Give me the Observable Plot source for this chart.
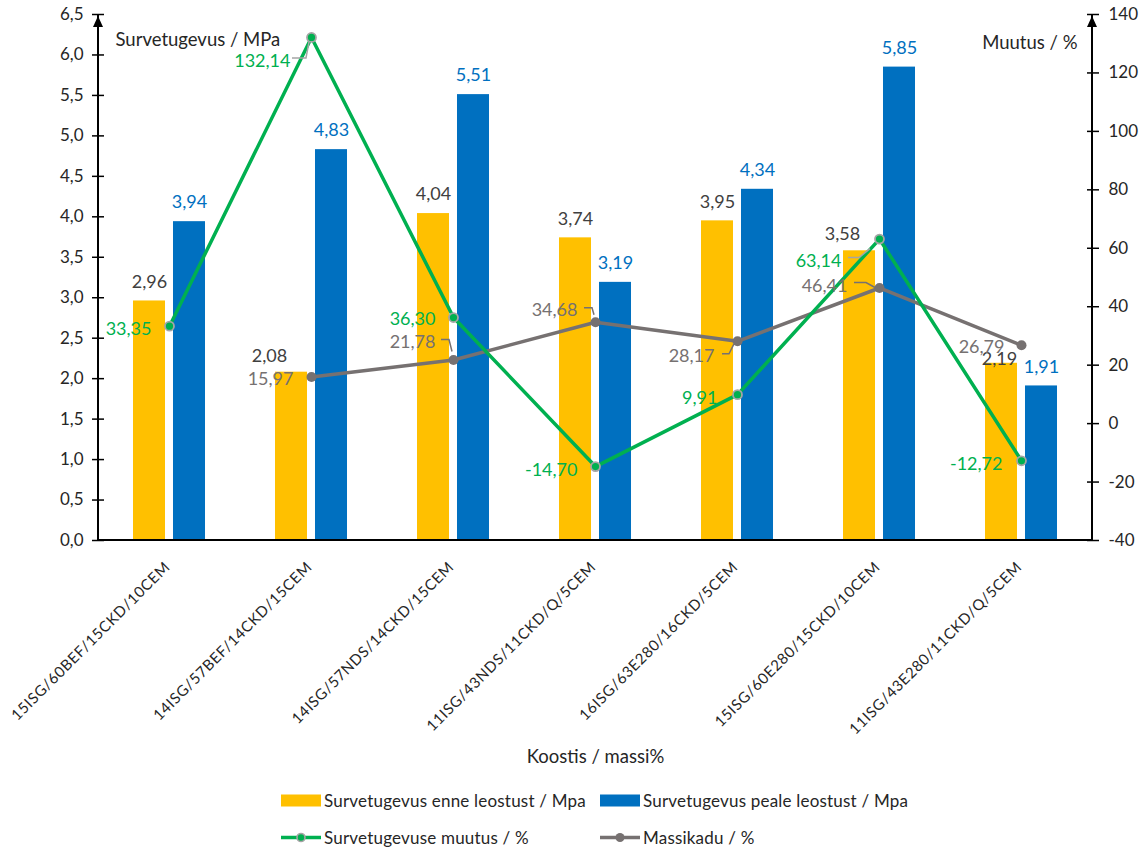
<!DOCTYPE html>
<html>
<head>
<meta charset="utf-8">
<script src="https://cdn.jsdelivr.net/npm/d3@7"></script>
<script src="https://cdn.jsdelivr.net/npm/@observablehq/plot@0.6"></script>
<style>
  body { margin: 0; background: #fff; font-family: Lato, "Open Sans", sans-serif; }
  #chart { position: relative; width: 1143px; height: 780px; }
  #chart svg { position: absolute; left: 0; top: 0; }
  #chart [aria-label="x-axis tick label"] text { letter-spacing: 0.6px; }
  #legend { position: relative; width: 1143px; height: 67px; font-size: 17px; letter-spacing: 0.2px; color: #262626; }
  .item { position: absolute; display: flex; align-items: center; white-space: nowrap; transform: translateY(-50%); }
  .item svg { margin-right: 3px; }
</style>
</head>
<body>
<div id="chart"></div>
<div id="legend"></div>
<script>
// Mixture compositions (mass %)
const categories = [
  "15ISG/60BEF/15CKD/10CEM",
  "14ISG/57BEF/14CKD/15CEM",
  "14ISG/57NDS/14CKD/15CEM",
  "11ISG/43NDS/11CKD/Q/5CEM",
  "16ISG/63E280/16CKD/5CEM",
  "15ISG/60E280/15CKD/10CEM",
  "11ISG/43E280/11CKD/Q/5CEM"
];
// Compressive strength before / after leaching, MPa
const strengthBefore = [2.96, 2.08, 4.04, 3.74, 3.95, 3.58, 2.19];
const strengthAfter  = [3.94, 4.83, 5.51, 3.19, 4.34, 5.85, 1.91];
// Change in compressive strength, %
const strengthChange = [33.35, 132.14, 36.30, -14.70, 9.91, 63.14, -12.72];
// Mass loss, % (not measured for the first mixture)
const massLoss = [null, 15.97, 21.78, 34.68, 28.17, 46.41, 26.79];

const leftTicks  = [0, 0.5, 1, 1.5, 2, 2.5, 3, 3.5, 4, 4.5, 5, 5.5, 6, 6.5];
const rightTicks = [-40, -20, 0, 20, 40, 60, 80, 100, 120, 140];

const seriesNames = [
  "Survetugevus enne leostust / Mpa",
  "Survetugevus peale leostust / Mpa",
  "Survetugevuse muutus / %",
  "Massikadu / %"
];
const leftTitle = "Survetugevus / MPa";
const rightTitle = "Muutus / %";
const bottomTitle = "Koostis / massi%";

// Colours
const YELLOW = "#FFC000", BLUE = "#0070C0", GREEN = "#00B050", GREY = "#767171";
const TEXT = "#262626";

// Label nudges (px) for labels that were moved off their default spot
const beforeLabelNudge = [[0,0],[-22,3],[0,0],[0,0],[0,0],[-17,2],[-2,15]];
const changeLabelNudge = [[-18,3],[-21,24],[-18,2],[-18,4],[-20,4],[-38,22],[-19,3]];
const lossLabelNudge   = [null,[-18,2],[-18,-18],[-18,-12],[-23,15],[-32,-2],[-17,2]];
// Leader lines from moved labels back to their points (px, relative to point)
const leaderLines = [
  {series: "change", i: 1, color: "#A5A5A5", path: [[-19,21],[-5,21],[-2,5]]},
  {series: "change", i: 5, color: "#A5A5A5", path: [[-31,19],[-20,19],[-9,10]]},
  {series: "loss",   i: 2, color: GREY, path: [[-12,-20],[-4,-20],[-1,-8]]},
  {series: "loss",   i: 3, color: GREY, path: [[-11,-14],[-3,-14],[-1,-7]]},
  {series: "loss",   i: 4, color: GREY, path: [[-15,13],[-8,13],[-3,3]]},
  {series: "loss",   i: 5, color: GREY, path: [[-25,-5],[-13,-5],[-4,0]]}
];

const locale = d3.formatLocale({decimal: ",", thousands: " ", grouping: [3], currency: ["", ""], minus: "-"});
const fmt1 = locale.format(".1f");
const fmt2 = locale.format(".2f");
const fmtInt = locale.format("d");

const rows = categories.map((c, i) => ({
  c, i,
  before: strengthBefore[i],
  after: strengthAfter[i],
  change: strengthChange[i],
  loss: massLoss[i]
}));
const lossRows = rows.filter(d => d.loss != null);

const W = 1143, H = 780;
const margins = {marginTop: 14, marginRight: 51, marginBottom: 240, marginLeft: 98};
const xScale = {domain: categories, paddingInner: 0.7746, paddingOuter: 0.3873, round: false, axis: null};
const baseStyle = {fontFamily: "Lato, 'Open Sans', sans-serif", fontSize: "17px", color: TEXT, background: "transparent", overflow: "visible"};
const LABEL_SIZE = 18, TICK_SIZE = 17, TITLE_SIZE = 18.5;

// Axis line with an arrow head at the top
function axisLine(side) {
  return (index, scales, values, dims) => {
    const x = side === "left" ? dims.marginLeft : dims.width - dims.marginRight;
    const top = dims.marginTop, bottom = dims.height - dims.marginBottom;
    const g = d3.create("svg:g");
    g.append("line")
      .attr("x1", x).attr("x2", x).attr("y1", bottom + 1).attr("y2", top)
      .attr("stroke", "#000").attr("stroke-width", 2);
    g.append("path")
      .attr("d", `M${x},${top + 2}L${x - 5},${top + 13}L${x + 5},${top + 13}Z`)
      .attr("fill", "#000");
    if (side === "left") {
      g.append("line")
        .attr("x1", dims.marginLeft).attr("x2", dims.width - dims.marginRight)
        .attr("y1", bottom).attr("y2", bottom)
        .attr("stroke", "#000").attr("stroke-width", 2);
    }
    return g.node();
  };
}

// Bars, left axis, category labels
const barLabelMarks = [];
rows.forEach((d, i) => {
  const [nx, ny] = beforeLabelNudge[i];
  barLabelMarks.push(Plot.text([d], {x: "c", y: "before", text: r => fmt2(r.before), dx: -20 + nx, dy: -19 + ny, fill: "#404040", fontSize: LABEL_SIZE}));
});
barLabelMarks.push(Plot.text(rows, {x: "c", y: "after", text: r => fmt2(r.after), dx: 20, dy: -19, fill: BLUE, fontSize: LABEL_SIZE}));

const plotBars = Plot.plot({
  width: W, height: H, ...margins,
  style: baseStyle,
  x: xScale,
  y: {domain: [0, 6.5], axis: null},
  marks: [
    Plot.barY(rows, {x: "c", y: "before", fill: YELLOW, dx: -20}),
    Plot.barY(rows, {x: "c", y: "after", fill: BLUE, dx: 20}),
    ...barLabelMarks,
    Plot.axisY(leftTicks, {anchor: "left", tickSize: 6, tickPadding: 9, tickFormat: fmt1, stroke: "#000", strokeWidth: 1.5, fill: TEXT, fontSize: TICK_SIZE, label: null}),
    Plot.axisY(leftTicks, {anchor: "left", tickSize: 6, dx: 6, stroke: "#000", strokeWidth: 1.5, fill: "none", label: null}),
    Plot.axisX({anchor: "bottom", tickSize: 0, tickRotate: -45, tickPadding: 24, dx: -2, fill: TEXT, fontSize: 15, label: null}),
    axisLine("left"),
    Plot.text([leftTitle], {frameAnchor: "top-left", textAnchor: "start", dx: 17, dy: 18, fontSize: TITLE_SIZE, fill: TEXT}),
    Plot.text([bottomTitle], {frameAnchor: "bottom", dy: 222, fontSize: TITLE_SIZE, fill: TEXT})
  ]
});

// Lines, right axis
function leaders(index, scales, values, dims) {
  const g = d3.create("svg:g");
  const bw = scales.x.bandwidth ? scales.x.bandwidth() / 2 : 0;
  for (const {series, i, color, path} of leaderLines) {
    const v = series === "change" ? strengthChange[i] : massLoss[i];
    const px = scales.x(categories[i]) + bw, py = scales.y(v);
    g.append("path")
      .attr("d", "M" + path.map(([dx, dy]) => `${px + dx},${py + dy}`).join("L"))
      .attr("fill", "none").attr("stroke", color).attr("stroke-width", 1.5);
  }
  return g.node();
}

const lineLabelMarks = [];
rows.forEach((d, i) => {
  const [cx, cy] = changeLabelNudge[i];
  lineLabelMarks.push(Plot.text([d], {x: "c", y: "change", text: r => fmt2(r.change), textAnchor: "end", dx: cx, dy: cy, fill: GREEN, fontSize: LABEL_SIZE}));
  if (d.loss != null) {
    const [lx, ly] = lossLabelNudge[i];
    lineLabelMarks.push(Plot.text([d], {x: "c", y: "loss", text: r => fmt2(r.loss), textAnchor: "end", dx: lx, dy: ly, fill: GREY, fontSize: LABEL_SIZE}));
  }
});

const plotLines = Plot.plot({
  width: W, height: H, ...margins,
  style: baseStyle,
  x: xScale,
  y: {domain: [-40, 140], axis: null},
  marks: [
    Plot.line(lossRows, {x: "c", y: "loss", stroke: GREY, strokeWidth: 3.5, strokeLinejoin: "round"}),
    Plot.dot(lossRows, {x: "c", y: "loss", r: 5, fill: GREY}),
    Plot.line(rows, {x: "c", y: "change", stroke: GREEN, strokeWidth: 3.5, strokeLinejoin: "round"}),
    Plot.dot(rows, {x: "c", y: "change", r: 4.5, fill: GREEN, stroke: "#A5A5A5", strokeWidth: 1.8}),
    leaders,
    ...lineLabelMarks,
    Plot.axisY(rightTicks, {anchor: "right", tickSize: 6, tickPadding: 10, tickFormat: fmtInt, stroke: "#000", strokeWidth: 1.5, fill: TEXT, fontSize: TICK_SIZE, label: null}),
    Plot.axisY(rightTicks, {anchor: "right", tickSize: 6, dx: -6, stroke: "#000", strokeWidth: 1.5, fill: "none", label: null}),
    axisLine("right"),
    Plot.text([rightTitle], {frameAnchor: "top-right", textAnchor: "end", dx: -15, dy: 21, fontSize: TITLE_SIZE, fill: TEXT})
  ]
});

document.getElementById("chart").append(plotBars, plotLines);

// Legend
const legend = d3.select("#legend");
const legendItems = [
  {name: seriesNames[0], kind: "bar", color: YELLOW, left: 281, top: 20},
  {name: seriesNames[1], kind: "bar", color: BLUE, left: 600, top: 20},
  {name: seriesNames[2], kind: "line", color: GREEN, left: 281, top: 57},
  {name: seriesNames[3], kind: "line", color: GREY, left: 600, top: 57}
];
for (const it of legendItems) {
  const item = legend.append("div").attr("class", "item").style("left", it.left + "px").style("top", it.top + "px");
  const sw = item.append("svg").attr("width", 40).attr("height", 14);
  if (it.kind === "bar") {
    sw.append("rect").attr("x", 0).attr("y", 1).attr("width", 40).attr("height", 12).attr("fill", it.color);
  } else {
    sw.append("line").attr("x1", 0).attr("x2", 40).attr("y1", 7).attr("y2", 7).attr("stroke", it.color).attr("stroke-width", 3.5);
    if (it.color === GREEN) {
      sw.append("circle").attr("cx", 20).attr("cy", 7).attr("r", 4).attr("fill", GREEN).attr("stroke", "#A5A5A5").attr("stroke-width", 1.6);
    } else {
      sw.append("circle").attr("cx", 20).attr("cy", 7).attr("r", 4.5).attr("fill", GREY);
    }
  }
  item.append("span").text(it.name);
}
</script>
</body>
</html>
